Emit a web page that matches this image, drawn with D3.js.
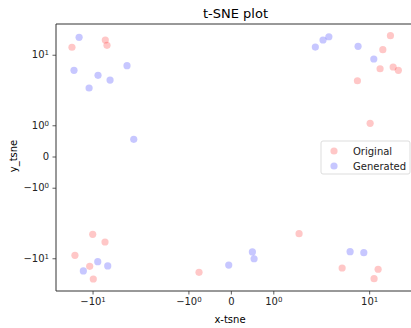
<!DOCTYPE html>
<html>
<head>
<meta charset="utf-8">
<script src="https://cdn.jsdelivr.net/npm/d3@7"></script>
<style>
  body { margin: 0; background: #fff; }
  svg { font-family: "DejaVu Sans", sans-serif; }
</style>
</head>
<body>
<div class="box"></div>
<script>
const originalX = [-18.6, -6.81, -6.47, 18.98, 15.1, 13.9, 20.6, 24.1, 7.02, 10.3,
                   -9.95, -6.87, -17.0, -10.9, -9.78, -0.75, 1.607, 4.43, 13.1, 11.6];
const originalY = [13.6, 18.3, 14.7, 21.8, 12.3, 5.64, 6.05, 5.28, 3.45, 1.063,
                   -3.75, -5.14, -8.85, -13.9, -23.4, -17.8, -3.66, -14.9, -15.7, -23.1];
const generatedX = [-15.0, -17.5, -8.48, -5.90, -11.1, -3.54, 1.99, 2.49, 2.97, 7.16,
                    11.5, -2.89, -8.55, -6.33, -13.2, -0.05, 0.507, 0.547, 5.63, 8.51];
const generatedY = [20.4, 5.28, 4.31, 3.55, 2.56, 6.38, 13.7, 18.3, 20.9, 14.1,
                    8.40, 0.551, -11.5, -13.7, -16.8, -13.2, -7.73, -10.2, -7.64, -7.96];
const tickVals = [-10, -1, 0, 1, 10];
const seriesNames = ["Original", "Generated"];
const seriesColors = ["red", "blue"];

const w = 411;
const h = 328;
const padL = 56, padR = 415, padT = 24, padB = 291;

// matplotlib style symlog (base 10, linthresh 2, linscale 1)
const linthresh = 2;
const linscaleAdj = 1 / (1 - 1 / 10);
function symlog(v) {
    const a = Math.abs(v);
    if (a <= linthresh) return v * linscaleAdj;
    return Math.sign(v) * linthresh * (linscaleAdj + Math.log10(a / linthresh));
}

const xScale = d3.scaleLinear().domain([-4.577, 4.82]).range([padL, padR]);
const yScale = d3.scaleLinear().domain([-4.785, 4.714]).range([padB, padT]);

const svg = d3.select(".box").append("svg")
    .attr("width", w)
    .attr("height", h);

// tick label with superscript
function tickLabel(sel, v) {
    sel.text(null);
    if (v === 0) { sel.text("0"); return; }
    const e = Math.round(Math.log10(Math.abs(v)));
    sel.append("tspan").text((v < 0 ? "\u2212" : "") + "10");
    sel.append("tspan").attr("dy", "-0.45em").style("font-size", "7px").text(e);
}

const xAxis = d3.axisBottom(xScale)
    .tickValues(tickVals.map(symlog))
    .tickSize(3.5)
    .tickPadding(3.5);
const yAxis = d3.axisLeft(yScale)
    .tickValues(tickVals.map(symlog))
    .tickSize(3.5)
    .tickPadding(3.5);

const gx = svg.append("g")
    .attr("transform", "translate(0," + padB + ")")
    .call(xAxis);
gx.selectAll(".tick text").each(function(d, i) { tickLabel(d3.select(this), tickVals[i]); });

const gy = svg.append("g")
    .attr("transform", "translate(" + padL + ",0)")
    .call(yAxis);
gy.selectAll(".tick text").each(function(d, i) { tickLabel(d3.select(this), tickVals[i]); });

svg.selectAll(".domain").remove();
svg.selectAll(".tick line").attr("stroke", "#333").attr("stroke-width", 0.8);
svg.selectAll(".tick text").attr("fill", "#222").style("font-size", "10px").style("font-family", "DejaVu Sans");

// spines
svg.append("path")
    .attr("d", "M" + padL + "," + padB + "V" + padT + "H" + padR + "M" + padL + "," + padB + "H" + padR)
    .attr("fill", "none")
    .attr("stroke", "#333")
    .attr("stroke-width", 1);

// points
const series = [
    originalX.map((x, i) => [x, originalY[i]]),
    generatedX.map((x, i) => [x, generatedY[i]])
];
series.forEach((pts, k) => {
    svg.append("g").selectAll("circle")
        .data(pts)
        .enter()
        .append("circle")
        .attr("cx", d => xScale(symlog(d[0])))
        .attr("cy", d => yScale(symlog(d[1])))
        .attr("r", 3.6)
        .attr("fill", seriesColors[k])
        .attr("fill-opacity", 0.22);
});

// title and axis names
svg.append("text")
    .attr("x", (padL + padR) / 2)
    .attr("y", 18)
    .attr("text-anchor", "middle")
    .style("font-size", "13px")
    .text("t-SNE plot");

svg.append("text")
    .attr("x", 230)
    .attr("y", 323)
    .attr("text-anchor", "middle")
    .style("font-size", "10px")
    .text("x-tsne");

svg.append("text")
    .attr("transform", "rotate(-90)")
    .attr("x", -156)
    .attr("y", 17)
    .attr("text-anchor", "middle")
    .style("font-size", "10px")
    .text("y_tsne");

// legend
const lg = svg.append("g").attr("transform", "translate(321,141)");
lg.append("rect")
    .attr("width", 89)
    .attr("height", 33)
    .attr("rx", 2)
    .attr("fill", "#fff")
    .attr("fill-opacity", 0.8)
    .attr("stroke", "#ddd");
seriesNames.forEach((name, i) => {
    lg.append("circle")
        .attr("cx", 13)
        .attr("cy", 10 + i * 15)
        .attr("r", 3.6)
        .attr("fill", seriesColors[i])
        .attr("fill-opacity", 0.22);
    lg.append("text")
        .attr("x", 32)
        .attr("y", 13.5 + i * 15)
        .style("font-size", "10px")
        .attr("fill", "#222")
        .text(name);
});
</script>
</body>
</html>
